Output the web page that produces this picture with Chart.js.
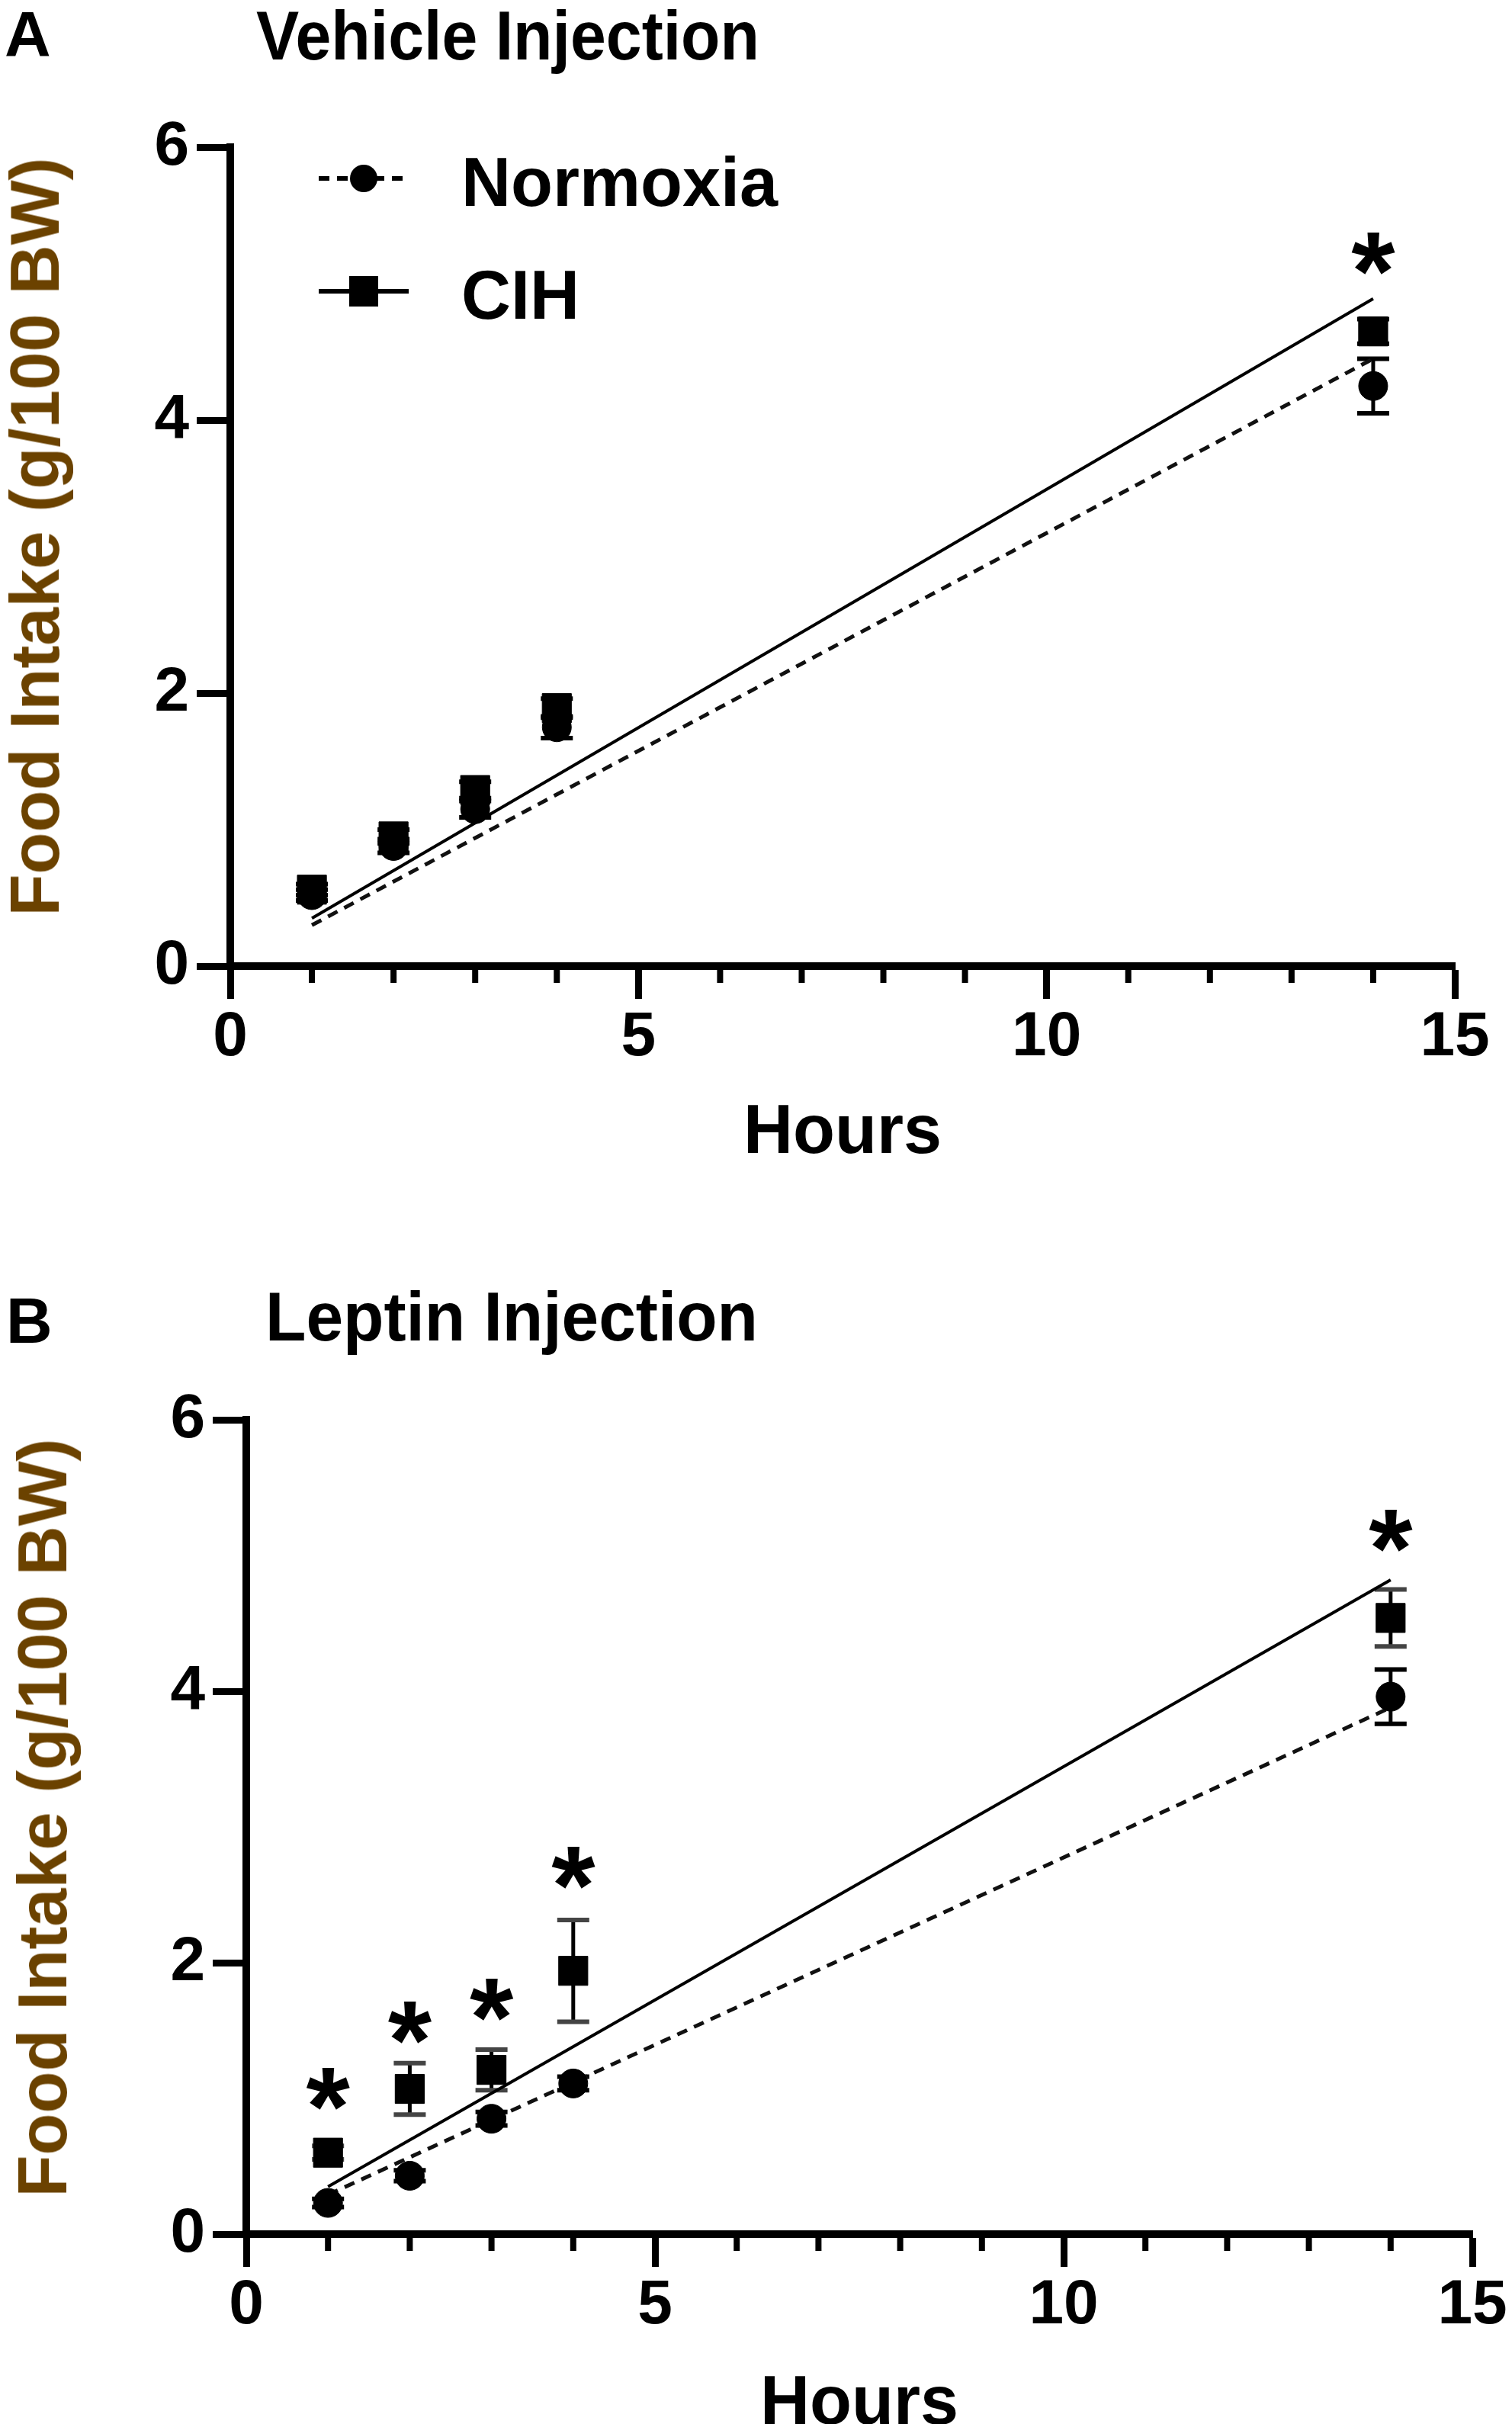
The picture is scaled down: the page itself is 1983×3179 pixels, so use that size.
<!DOCTYPE html>
<html>
<head>
<meta charset="utf-8">
<script src="https://cdn.jsdelivr.net/npm/chart.js@4.4.1/dist/chart.umd.min.js"></script>
<style>
  html, body { margin: 0; padding: 0; background: #fff; overflow: hidden; }
  body { width: 1983px; height: 3179px; position: relative; font-family: "Liberation Sans", Arial, sans-serif; }
  .abs { position: absolute; white-space: nowrap; color: #000; font-weight: bold; line-height: 1; }
  .panel-letter { font-size: 84px; }
  .panel-title { font-size: 90px; font-family: "Liberation Sans Narrow", "Liberation Sans", Arial, sans-serif; transform-origin: 0 0; }
  .legend-text { font-size: 90px; }
  .y-title { font-size: 90px; color: #6b4200; transform: translate(-50%, -50%) rotate(-90deg); z-index: 2; }
  canvas { position: absolute; left: 0; }
</style>
</head>
<body>

<div class="abs panel-letter" style="left:6px; top:3px;">A</div>
<div class="abs panel-title" id="titleA" data-w="660" style="left:336px; top:2px;">Vehicle Injection</div>

<div class="abs panel-letter" style="left:8px; top:1690px;">B</div>
<div class="abs panel-title" id="titleB" data-w="646" style="left:348px; top:1682px;">Leptin Injection</div>

<!-- legend, panel A -->
<svg class="abs" style="left:410px; top:204px;" width="140" height="60">
  <line x1="8" y1="30" x2="128" y2="30" stroke="#000" stroke-width="6" stroke-dasharray="14 10"></line>
  <circle cx="67" cy="30" r="18" fill="#000"></circle>
</svg>
<div class="abs legend-text" style="left:605px; top:194px;">Normoxia</div>
<svg class="abs" style="left:410px; top:352px;" width="140" height="60">
  <line x1="8" y1="30" x2="126" y2="30" stroke="#000" stroke-width="6"></line>
  <rect x="48" y="10" width="38" height="40" fill="#000"></rect>
</svg>
<div class="abs legend-text" style="left:605px; top:342px;">CIH</div>

<canvas id="chartA" width="1983" height="1560" style="top:0; width:1983px; height:1560px;"></canvas>
<canvas id="chartB" width="1983" height="1620" style="top:1600px; width:1983px; height:1620px;"></canvas>

<div class="abs y-title" id="yTitleA" style="left:46px; top:704px;"></div>
<div class="abs y-title" id="yTitleB" style="left:56px; top:2384px;"></div>

<script>
// horas de medición
const hours = [1, 2, 3, 4, 14];
const fitHours = [1, 14];

// A: inyección de vehículo (media y SEM)
const vehNormoxia = [0.52, 0.88, 1.15, 1.75, 4.25];
const vehNormoxiaSem = [0.04, 0.05, 0.06, 0.08, 0.20];
const vehCih = [0.56, 0.95, 1.29, 1.89, 4.65];
const vehCihSem = [0.04, 0.05, 0.06, 0.07, 0.09];
const vehNormoxiaFit = [0.30, 4.45];
const vehCihFit = [0.35, 4.89];
const vehStars = [null, null, null, null, 5.22];

// B: inyección de leptina (media y SEM)
const lepNormoxia = [0.23, 0.43, 0.85, 1.11, 3.96];
const lepNormoxiaSem = [0.03, 0.04, 0.05, 0.05, 0.20];
const lepCih = [0.60, 1.07, 1.21, 1.94, 4.54];
const lepCihSem = [0.05, 0.19, 0.15, 0.375, 0.21];
const lepNormoxiaFit = [0.29, 3.88];
const lepCihFit = [0.35, 4.82];
const lepStars = [1.07, 1.56, 1.73, 2.70, 5.18];

// ticks y títulos
const xTickStep = 1;
const xLabelEvery = 5;
const yTickStep = 2;
const yAxisTitle = 'Food Intake (g/100 BW)';
const xAxisTitle = 'Hours';

Chart.defaults.font.family = '"Liberation Sans", Arial, sans-serif';
Chart.defaults.color = '#000';

document.getElementById('yTitleA').textContent = yAxisTitle;
document.getElementById('yTitleB').textContent = yAxisTitle;

// ajustar el ancho de los títulos
document.querySelectorAll('.panel-title').forEach(function (el) {
    var w = el.getBoundingClientRect().width;
    el.style.transform = 'scaleX(' + (parseFloat(el.dataset.w) / w) + ')';
});

function toPoints(xs, ys) {
    return xs.map(function (x, i) { return { x: x, y: ys[i] }; });
}

// barras de error (SEM) dibujadas con las escalas del gráfico
function errorBarsPlugin(series) {
    return {
        id: 'errorBars',
        beforeDatasetsDraw: function (chart) {
            var ctx = chart.ctx, x = chart.scales.x, y = chart.scales.y;
            ctx.save();
            series.forEach(function (s) {
                s.mean.forEach(function (m, i) {
                    var px = x.getPixelForValue(hours[i]);
                    var top = y.getPixelForValue(m + s.sem[i]);
                    var bot = y.getPixelForValue(m - s.sem[i]);
                    ctx.strokeStyle = '#000';
                    ctx.lineWidth = 5;
                    ctx.beginPath();
                    ctx.moveTo(px, top); ctx.lineTo(px, bot);
                    ctx.stroke();
                    ctx.strokeStyle = s.capColor;
                    ctx.lineWidth = 6;
                    ctx.beginPath();
                    ctx.moveTo(px - 21, top); ctx.lineTo(px + 21, top);
                    ctx.moveTo(px - 21, bot); ctx.lineTo(px + 21, bot);
                    ctx.stroke();
                });
            });
            ctx.restore();
        }
    };
}

// marcas menores del eje x
const minorTicksPlugin = {
    id: 'minorTicks',
    afterDraw: function (chart) {
        var ctx = chart.ctx, x = chart.scales.x, area = chart.chartArea;
        ctx.save();
        ctx.strokeStyle = '#000';
        ctx.lineWidth = 8;
        for (var v = x.min; v <= x.max; v += xTickStep) {
            if (v % xLabelEvery === 0) continue;
            var px = x.getPixelForValue(v);
            ctx.beginPath();
            ctx.moveTo(px, area.bottom);
            ctx.lineTo(px, area.bottom + 22);
            ctx.stroke();
        }
        ctx.restore();
    }
};

// asteriscos de significancia
function starsPlugin(stars) {
    return {
        id: 'stars',
        afterDatasetsDraw: function (chart) {
            var ctx = chart.ctx, x = chart.scales.x, y = chart.scales.y;
            ctx.save();
            ctx.font = 'bold 100px "Liberation Sans", Arial, sans-serif';
            var m = ctx.measureText('*');
            var size = 100 * 56 / (m.actualBoundingBoxAscent + m.actualBoundingBoxDescent);
            ctx.font = 'bold ' + size + 'px "Liberation Sans", Arial, sans-serif';
            m = ctx.measureText('*');
            ctx.fillStyle = '#000';
            ctx.textAlign = 'center';
            ctx.textBaseline = 'alphabetic';
            stars.forEach(function (s, i) {
                if (s === null) return;
                var px = x.getPixelForValue(hours[i]);
                var py = y.getPixelForValue(s);
                ctx.fillText('*', px, py + (m.actualBoundingBoxAscent - m.actualBoundingBoxDescent) / 2);
            });
            ctx.restore();
        }
    };
}

function crearGrafico(id, cfg) {
    var ctx = document.getElementById(id).getContext('2d');
    return new Chart(ctx, {
        type: 'scatter',
        data: {
            datasets: [{
                label: 'CIH',
                data: toPoints(hours, cfg.cih),
                pointStyle: 'rect',
                pointRadius: 27,
                backgroundColor: '#000',
                borderColor: '#000',
                borderWidth: 1
            }, {
                label: 'Normoxia',
                data: toPoints(hours, cfg.normoxia),
                pointStyle: 'circle',
                pointRadius: 19,
                backgroundColor: '#000',
                borderColor: '#000',
                borderWidth: 1
            }, {
                label: 'CIH fit',
                data: toPoints(fitHours, cfg.cihFit),
                showLine: true,
                pointRadius: 0,
                borderColor: '#000',
                borderWidth: 4
            }, {
                label: 'Normoxia fit',
                data: toPoints(fitHours, cfg.normoxiaFit),
                showLine: true,
                pointRadius: 0,
                borderColor: '#111',
                borderWidth: 5,
                borderDash: [14, 10]
            }]
        },
        options: {
            responsive: false,
            animation: false,
            devicePixelRatio: 1,
            layout: { padding: { left: 0, top: cfg.top, right: cfg.right, bottom: 0 } },
            plugins: {
                legend: { display: false },
                tooltip: { enabled: false }
            },
            scales: {
                x: {
                    type: 'linear',
                    min: 0,
                    max: 15,
                    afterFit: function (s) { s.height = cfg.xHeight; },
                    border: { display: true, color: '#000', width: 10 },
                    grid: {
                        display: true,
                        drawOnChartArea: false,
                        drawTicks: true,
                        tickLength: 43,
                        tickWidth: 9,
                        tickColor: function (c) {
                            return c.tick && c.tick.value % xLabelEvery === 0 ? '#000' : 'rgba(0,0,0,0)';
                        }
                    },
                    ticks: {
                        stepSize: xTickStep,
                        autoSkip: false,
                        maxRotation: 0,
                        padding: 2,
                        color: '#000',
                        font: { size: 82, weight: 'bold' },
                        callback: function (v) { return v % xLabelEvery === 0 ? v : ''; }
                    },
                    title: {
                        display: true,
                        text: xAxisTitle,
                        color: '#000',
                        font: { size: 90, weight: 'bold', lineHeight: 0.9 },
                        padding: { top: 0, bottom: cfg.xTitlePad }
                    }
                },
                y: {
                    type: 'linear',
                    min: 0,
                    max: 6,
                    afterFit: function (s) { s.width = cfg.left; },
                    border: { display: true, color: '#000', width: 10 },
                    grid: {
                        display: true,
                        drawOnChartArea: false,
                        drawTicks: true,
                        tickLength: 44,
                        tickWidth: 9,
                        tickColor: '#000'
                    },
                    ticks: {
                        stepSize: yTickStep,
                        padding: 10,
                        color: '#000',
                        font: { size: 82, weight: 'bold' }
                    }
                }
            }
        },
        plugins: [
            errorBarsPlugin([
                { mean: cfg.normoxia, sem: cfg.normoxiaSem, capColor: '#000' },
                { mean: cfg.cih, sem: cfg.cihSem, capColor: cfg.cihCap }
            ]),
            minorTicksPlugin,
            starsPlugin(cfg.stars)
        ]
    });
}

crearGrafico('chartA', {
    normoxia: vehNormoxia, normoxiaSem: vehNormoxiaSem,
    cih: vehCih, cihSem: vehCihSem,
    normoxiaFit: vehNormoxiaFit, cihFit: vehCihFit,
    stars: vehStars, cihCap: '#000',
    left: 302, top: 193, right: 75, xHeight: 293, xTitlePad: 32
});

crearGrafico('chartB', {
    normoxia: lepNormoxia, normoxiaSem: lepNormoxiaSem,
    cih: lepCih, cihSem: lepCihSem,
    normoxiaFit: lepNormoxiaFit, cihFit: lepCihFit,
    stars: lepStars, cihCap: '#444',
    left: 323, top: 262, right: 52, xHeight: 290, xTitlePad: 25
});
</script>
</body>
</html>
